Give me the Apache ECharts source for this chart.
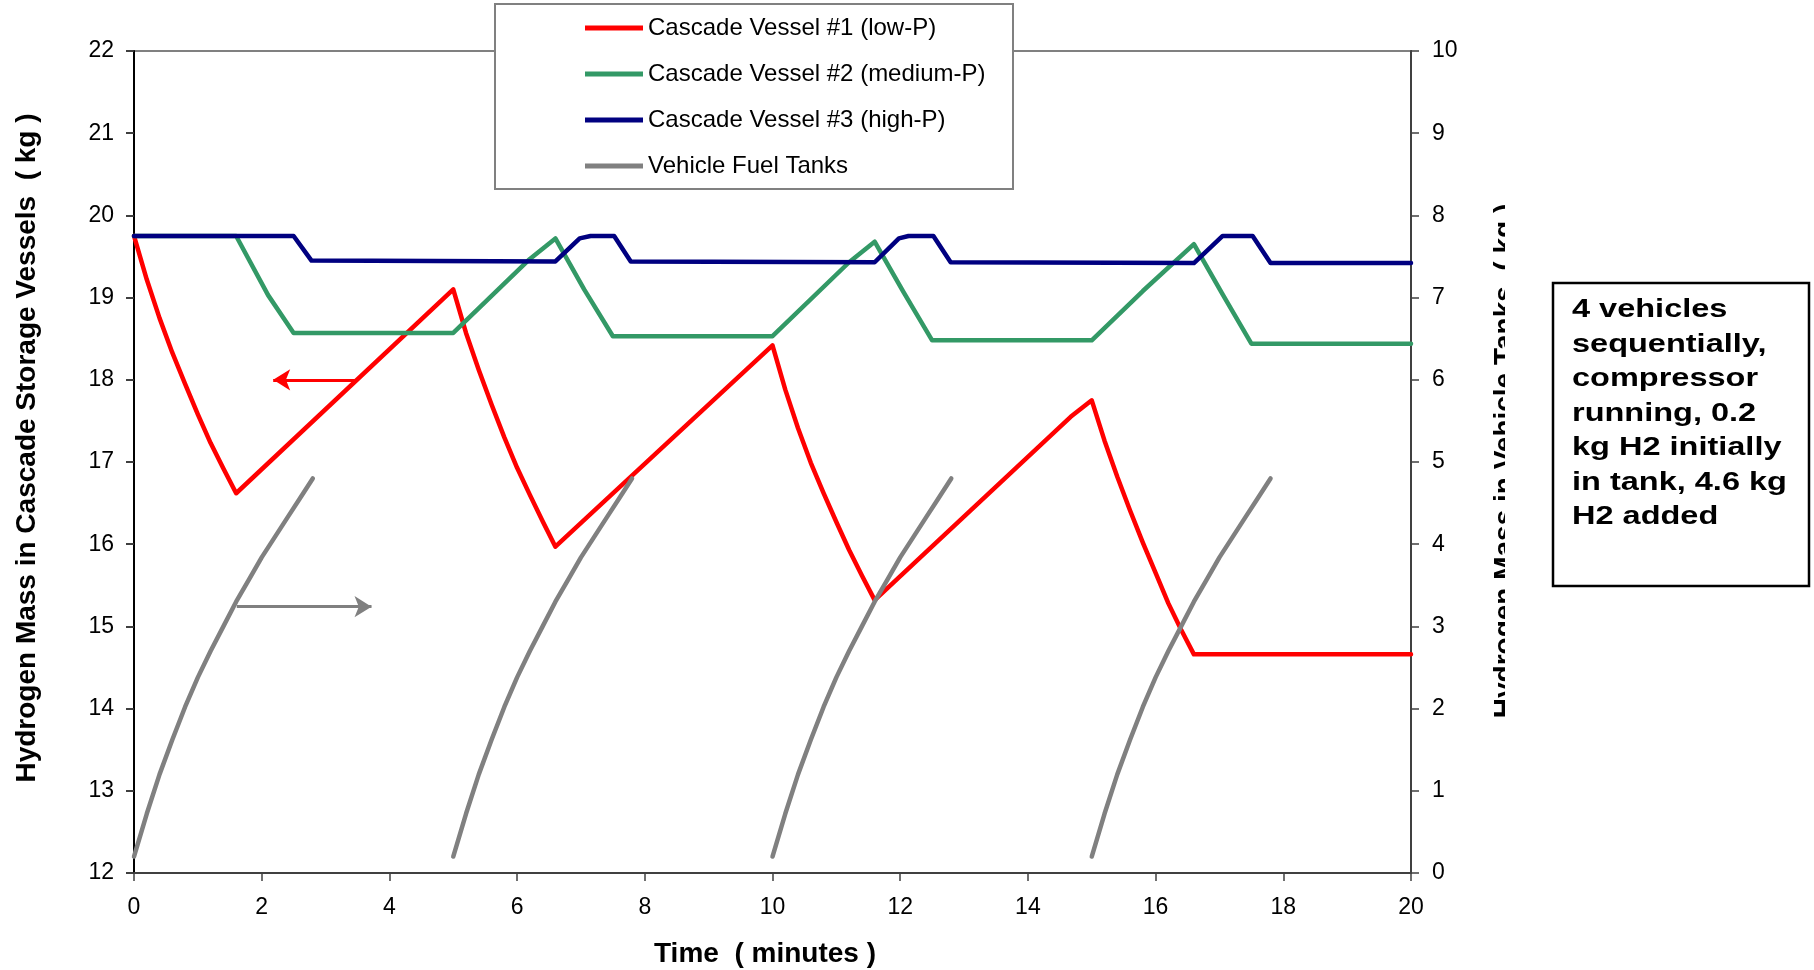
<!DOCTYPE html>
<html>
<head>
<meta charset="utf-8">
<title>Cascade storage refuelling</title>
<script src="https://cdn.jsdelivr.net/npm/echarts@6.0.0/dist/echarts.min.js"></script>
<style>
  html, body { margin: 0; padding: 0; background: #fff; }
  #chart { width: 1814px; height: 970px; }
</style>
</head>
<body>
<div id="chart"></div>
<script>
// Hydrogen mass in the three cascade vessels (kg, left axis) over time (minutes)
const lowP = [
  [0, 19.75], [0.2, 19.22], [0.4, 18.75], [0.6, 18.33], [0.8, 17.95], [1.0, 17.58], [1.2, 17.23], [1.4, 16.92], [1.6, 16.62],
  [5.0, 19.1],
  [5.2, 18.57], [5.4, 18.12], [5.6, 17.7], [5.8, 17.3], [6.0, 16.93], [6.2, 16.6], [6.4, 16.28], [6.6, 15.97],
  [10.0, 18.42],
  [10.2, 17.88], [10.4, 17.41], [10.6, 16.99], [10.8, 16.62], [11.0, 16.27], [11.2, 15.93], [11.4, 15.62], [11.6, 15.32],
  [14.67, 17.55], [15.0, 17.75],
  [15.2, 17.26], [15.4, 16.82], [15.6, 16.41], [15.8, 16.02], [16.0, 15.65], [16.2, 15.28], [16.4, 14.96], [16.6, 14.66],
  [20, 14.66]
];
const mediumP = [
  [0, 19.75], [1.6, 19.75], [2.1, 19.03], [2.5, 18.57], [5.0, 18.57], [6.2, 19.47], [6.6, 19.72],
  [7.05, 19.1], [7.5, 18.53], [10.0, 18.53], [11.2, 19.43], [11.6, 19.68],
  [12.05, 19.07], [12.5, 18.48], [15.0, 18.48], [15.8, 19.08], [16.6, 19.65],
  [17.05, 19.04], [17.5, 18.44], [20, 18.44]
];
const highP = [
  [0, 19.75], [2.5, 19.75], [2.78, 19.45], [6.6, 19.44], [6.98, 19.72], [7.15, 19.75], [7.52, 19.75], [7.78, 19.44],
  [11.6, 19.43], [11.98, 19.72], [12.13, 19.75], [12.52, 19.75], [12.79, 19.43],
  [16.6, 19.42], [17.05, 19.75], [17.52, 19.75], [17.8, 19.42], [20, 19.42]
];

// Hydrogen mass in each vehicle's tank (kg, right axis)
const tank1 = [
  [0, 0.2], [0.2, 0.72], [0.4, 1.2], [0.6, 1.62], [0.8, 2.02], [1.0, 2.38], [1.2, 2.7], [1.4, 3.0],
  [1.6, 3.3], [1.8, 3.57], [2.0, 3.84], [2.2, 4.08], [2.4, 4.32], [2.6, 4.56], [2.8, 4.8]
];
const tank2 = [
  [5, 0.2], [5.2, 0.72], [5.4, 1.2], [5.6, 1.62], [5.8, 2.02], [6.0, 2.38], [6.2, 2.7], [6.4, 3.0],
  [6.6, 3.3], [6.8, 3.57], [7.0, 3.84], [7.2, 4.08], [7.4, 4.32], [7.6, 4.56], [7.8, 4.8]
];
const tank3 = [
  [10, 0.2], [10.2, 0.72], [10.4, 1.2], [10.6, 1.62], [10.8, 2.02], [11.0, 2.38], [11.2, 2.7], [11.4, 3.0],
  [11.6, 3.3], [11.8, 3.57], [12.0, 3.84], [12.2, 4.08], [12.4, 4.32], [12.6, 4.56], [12.8, 4.8]
];
const tank4 = [
  [15, 0.2], [15.2, 0.72], [15.4, 1.2], [15.6, 1.62], [15.8, 2.02], [16.0, 2.38], [16.2, 2.7], [16.4, 3.0],
  [16.6, 3.3], [16.8, 3.57], [17.0, 3.84], [17.2, 4.08], [17.4, 4.32], [17.6, 4.56], [17.8, 4.8]
];

// Arrows pointing each curve family to its axis (tail, head)
const lowPArrow = [[3.49, 18.0], [2.18, 18.0]];
const tankArrow = [[1.61, 3.24], [3.72, 3.24]];

const seriesNames = [
  'Cascade Vessel #1 (low-P)',
  'Cascade Vessel #2 (medium-P)',
  'Cascade Vessel #3 (high-P)',
  'Vehicle Fuel Tanks'
];
const noteLines = [
  '4 vehicles',
  'sequentially,',
  'compressor',
  'running, 0.2',
  'kg H2 initially',
  'in tank, 4.6 kg',
  'H2 added'
];
const leftTitle = 'Hydrogen Mass in Cascade Storage Vessels  ( kg )';
const rightTitle = 'Hydrogen Mass in Vehicle Tanks  ( kg )';
const bottomTitle = 'Time  ( minutes )';

const FONT = '"Liberation Sans", Arial, sans-serif';
const COLORS = ['#FF0000', '#339966', '#000080', '#808080'];

function lineSeries(name, data, color, yAxisIndex, extra) {
  return Object.assign({
    type: 'line',
    name: name,
    data: data,
    yAxisIndex: yAxisIndex,
    showSymbol: false,
    symbol: 'none',
    smooth: false,
    silent: true,
    lineStyle: { color: color, width: 4.5, join: 'round', cap: 'round' },
    itemStyle: { color: color },
    emphasis: { disabled: true }
  }, extra || {});
}

function arrowMark(points, color) {
  return {
    silent: true,
    symbol: ['none', 'arrow'],
    symbolSize: [16, 17],
    label: { show: false },
    emphasis: { disabled: true },
    lineStyle: { color: color, width: 3, type: 'solid' },
    itemStyle: { color: color },
    animation: false,
    data: [[{ coord: points[0] }, { coord: points[1] }]]
  };
}

const chart = echarts.init(document.getElementById('chart'), null, { renderer: 'canvas' });

chart.setOption({
  animation: false,
  backgroundColor: '#ffffff',
  textStyle: { fontFamily: FONT },
  grid: {
    left: 134, right: 403, top: 51, bottom: 97,
    show: true, borderColor: '#808080', borderWidth: 2,
    backgroundColor: 'transparent',
    containLabel: false,
    outerBoundsMode: 'none'
  },
  legend: {
    data: seriesNames.map(n => ({ name: n, icon: 'rect' })),
    orient: 'vertical',
    left: 585, top: 15,
    padding: 0,
    itemWidth: 58, itemHeight: 5, itemGap: 20,
    selectedMode: false,
    z: 10,
    textStyle: { fontFamily: FONT, fontSize: 24, lineHeight: 26, color: '#000' }
  },
  xAxis: {
    type: 'value', min: 0, max: 20, interval: 2,
    axisLine: { show: true, onZero: false, lineStyle: { color: '#404040', width: 2 } },
    axisTick: { show: true, length: 8, lineStyle: { color: '#404040', width: 1.5 } },
    axisLabel: { fontFamily: FONT, fontSize: 23, color: '#000', margin: 23 },
    splitLine: { show: false }
  },
  yAxis: [
    {
      type: 'value', position: 'left', min: 12, max: 22, interval: 1,
      axisLine: { show: true, onZero: false, lineStyle: { color: '#000', width: 2 } },
      axisTick: { show: true, length: 8, lineStyle: { color: '#000', width: 1.5 } },
      axisLabel: { fontFamily: FONT, fontSize: 23, color: '#000', margin: 20 },
      splitLine: { show: false }
    },
    {
      type: 'value', position: 'right', min: 0, max: 10, interval: 1,
      axisLine: { show: true, onZero: false, lineStyle: { color: '#404040', width: 2 } },
      axisTick: { show: true, length: 8, lineStyle: { color: '#404040', width: 1.5 } },
      axisLabel: { fontFamily: FONT, fontSize: 23, color: '#000', margin: 21 },
      splitLine: { show: false }
    },
    {
      // inner half of the right-hand cross ticks
      type: 'value', position: 'right', min: 0, max: 10, interval: 1,
      axisLine: { show: false },
      axisTick: { show: true, inside: true, length: 8, lineStyle: { color: '#404040', width: 1.5 } },
      axisLabel: { show: false },
      splitLine: { show: false }
    }
  ],
  series: [
    lineSeries(seriesNames[0], lowP, COLORS[0], 0, { markLine: arrowMark(lowPArrow, COLORS[0]) }),
    lineSeries(seriesNames[1], mediumP, COLORS[1], 0),
    lineSeries(seriesNames[2], highP, COLORS[2], 0),
    lineSeries(seriesNames[3], tank1, COLORS[3], 1, { markLine: arrowMark(tankArrow, COLORS[3]) }),
    lineSeries(seriesNames[3], tank2, COLORS[3], 1),
    lineSeries(seriesNames[3], tank3, COLORS[3], 1),
    lineSeries(seriesNames[3], tank4, COLORS[3], 1)
  ],
  graphic: [
    {
      type: 'rect', z: 9, silent: true,
      shape: { x: 495, y: 4, width: 518, height: 185 },
      style: { fill: '#fff', stroke: '#808080', lineWidth: 2 }
    },
    {
      type: 'text', z: 20, silent: true,
      x: 27, y: 448, rotation: Math.PI / 2,
      style: {
        text: leftTitle, font: 'bold 28px ' + FONT, fill: '#000',
        align: 'center', verticalAlign: 'middle'
      }
    },
    {
      type: 'text', z: 20, silent: true,
      x: 1505, y: 461, rotation: Math.PI / 2,
      style: {
        text: rightTitle, font: 'bold 28px ' + FONT, fill: '#000',
        align: 'center', verticalAlign: 'middle'
      }
    },
    {
      // the right title is cut off along its baseline side
      type: 'rect', z: 21, silent: true,
      shape: { x: 1505, y: 180, width: 40, height: 570 },
      style: { fill: '#fff', stroke: null }
    },
    {
      type: 'text', z: 20, silent: true,
      x: 765, y: 954,
      style: {
        text: bottomTitle, font: 'bold 28px ' + FONT, fill: '#000',
        align: 'center', verticalAlign: 'middle'
      }
    },
    {
      type: 'rect', z: 20, silent: true,
      shape: { x: 1553, y: 283, width: 256, height: 303 },
      style: { fill: '#fff', stroke: '#000', lineWidth: 2.5 }
    },
    {
      type: 'text', z: 22, silent: true,
      x: 1572, y: 293, scaleX: 1.25, scaleY: 1,
      style: {
        text: noteLines.join('\n'), font: 'bold 26px ' + FONT, fill: '#000',
        lineHeight: 34.5, align: 'left', verticalAlign: 'top'
      }
    }
  ]
});
</script>
</body>
</html>
